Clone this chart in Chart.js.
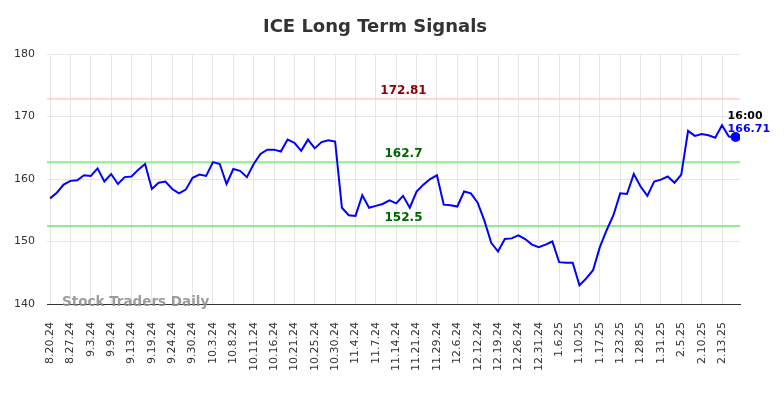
<!DOCTYPE html>
<html>
<head>
<meta charset="utf-8">
<script src="https://cdn.jsdelivr.net/npm/chart.js@4.4.1/dist/chart.umd.min.js"></script>
<style>
html, body { margin: 0; padding: 0; background: #fff; }
#wrap { width: 784px; height: 398px; }
</style>
</head>
<body>
<div id="wrap"><canvas id="chart"></canvas></div>
<script>
const TITLE = "ICE Long Term Signals";
const WATERMARK = "Stock Traders Daily";
const LAST_TIME = "16:00";

// one tick label every 3rd point
const tickLabels = ["8.20.24", "8.27.24", "9.3.24", "9.9.24", "9.13.24", "9.19.24", "9.24.24",
    "9.30.24", "10.3.24", "10.8.24", "10.11.24", "10.16.24", "10.21.24", "10.25.24", "10.30.24",
    "11.4.24", "11.7.24", "11.14.24", "11.21.24", "11.29.24", "12.6.24", "12.12.24", "12.19.24",
    "12.26.24", "12.31.24", "1.6.25", "1.10.25", "1.17.25", "1.23.25", "1.28.25", "1.31.25",
    "2.5.25", "2.10.25", "2.13.25"];
const TICK_EVERY = 3;

const prices = [156.9, 157.8, 159.1, 159.7, 159.8, 160.6, 160.5, 161.7, 159.6, 160.8,
    159.2, 160.3, 160.4, 161.5, 162.4, 158.4, 159.4, 159.6, 158.4, 157.7,
    158.3, 160.2, 160.7, 160.5, 162.7, 162.4, 159.2, 161.6, 161.3, 160.3,
    162.4, 164.0, 164.7, 164.7, 164.4, 166.3, 165.8, 164.5, 166.3, 164.9,
    165.9, 166.2, 166.0, 155.4, 154.2, 154.1, 157.4, 155.4, 155.7, 156.0,
    156.6, 156.1, 157.3, 155.4, 158.0, 159.1, 160.0, 160.6, 155.9, 155.8,
    155.6, 158.0, 157.7, 156.2, 153.3, 149.8, 148.4, 150.4, 150.5, 151.0,
    150.4, 149.5, 149.1, 149.5, 150.0, 146.7, 146.6, 146.6, 143.0, 144.1,
    145.4, 149.1, 151.8, 154.2, 157.7, 157.6, 160.8, 158.8, 157.3, 159.6,
    159.9, 160.4, 159.4, 160.7, 167.7, 166.9, 167.2, 167.0, 166.6, 168.6,
    166.8, 166.71];

const yTicks = [140, 150, 160, 170, 180];

const levels = [172.81, 162.7, 152.5];
const levelLineColors = ["#ffcccc", "#90ee90", "#90ee90"];
const levelTextColors = ["#8b0000", "#006400", "#006400"];

const FONT = "'DejaVu Sans', sans-serif";
const last = prices.length - 1;

const overlay = {
    id: "overlay",
    beforeDatasetsDraw(chart) {
        const ctx = chart.ctx, area = chart.chartArea;
        const y = chart.scales.y;
        ctx.save();
        levels.forEach((lv, i) => {
            const py = y.getPixelForValue(lv);
            ctx.strokeStyle = levelLineColors[i];
            ctx.lineWidth = i === 0 ? 1.5 : 2;
            ctx.beginPath();
            ctx.moveTo(area.left, py);
            ctx.lineTo(area.right, py);
            ctx.stroke();
        });
        ctx.restore();
    },
    afterDraw(chart) {
        const ctx = chart.ctx, area = chart.chartArea;
        const x = chart.scales.x, y = chart.scales.y;
        ctx.save();
        // title
        ctx.fillStyle = "#333";
        ctx.font = "bold 18px " + FONT;
        ctx.textAlign = "center";
        ctx.textBaseline = "middle";
        ctx.fillText(TITLE, 375, 27);
        // level labels
        ctx.font = "bold 12px " + FONT;
        ctx.textBaseline = "bottom";
        const cx = (area.left + area.right) / 2 + 10;
        levels.forEach((lv, i) => {
            ctx.fillStyle = levelTextColors[i];
            ctx.fillText(String(lv), cx, y.getPixelForValue(lv) - 2);
        });
        // watermark
        ctx.fillStyle = "rgba(140,140,140,0.85)";
        ctx.font = "bold 13.5px " + FONT;
        ctx.textAlign = "left";
        ctx.textBaseline = "middle";
        ctx.fillText(WATERMARK, 62, 302);
        // last point label
        const px = x.getPixelForValue(last), py = y.getPixelForValue(prices[last]);
        ctx.font = "bold 11px " + FONT;
        ctx.textBaseline = "alphabetic";
        ctx.fillStyle = "#000";
        ctx.fillText(LAST_TIME, px - 8, py - 18);
        ctx.fillStyle = "#0000ff";
        ctx.fillText(prices[last].toFixed(2), px - 8, py - 5);
        ctx.restore();
    }
};

new Chart(document.getElementById("chart"), {
    type: "line",
    data: {
        datasets: [{
            data: prices.map((v, i) => ({ x: i, y: v })),
            borderColor: "#0000ff",
            backgroundColor: "#0000ff",
            borderWidth: 2,
            tension: 0,
            pointRadius: (c) => c.dataIndex === last ? 4 : 0,
            pointHoverRadius: 0
        }]
    },
    options: {
        responsive: true,
        maintainAspectRatio: false,
        animation: false,
        events: [],
        layout: { padding: { top: 54, right: 44, left: 0, bottom: 0 } },
        plugins: { legend: { display: false }, tooltip: { enabled: false }, title: { display: false } },
        scales: {
            x: {
                type: "linear",
                min: -0.45,
                max: 101.65,
                afterBuildTicks: (s) => { s.ticks = tickLabels.map((_, k) => ({ value: k * TICK_EVERY })); },
                afterFit: (s) => { s.height = 94; },
                ticks: {
                    callback: (v) => tickLabels[Math.round(v / TICK_EVERY)],
                    minRotation: 90,
                    maxRotation: 90,
                    autoSkip: false,
                    padding: 18,
                    color: "#333",
                    font: { family: FONT, size: 11 }
                },
                grid: { color: "#e6e6e6", drawTicks: false },
                border: { color: "#333", width: 1 }
            },
            y: {
                min: 140,
                max: 180,
                afterBuildTicks: (s) => { s.ticks = yTicks.map(v => ({ value: v })); },
                afterFit: (s) => { s.width = 47; },
                ticks: {
                    padding: 12,
                    color: "#333",
                    font: { family: FONT, size: 11 }
                },
                grid: { color: "#e6e6e6", drawTicks: false },
                border: { display: false }
            }
        }
    },
    plugins: [overlay]
});
</script>
</body>
</html>
